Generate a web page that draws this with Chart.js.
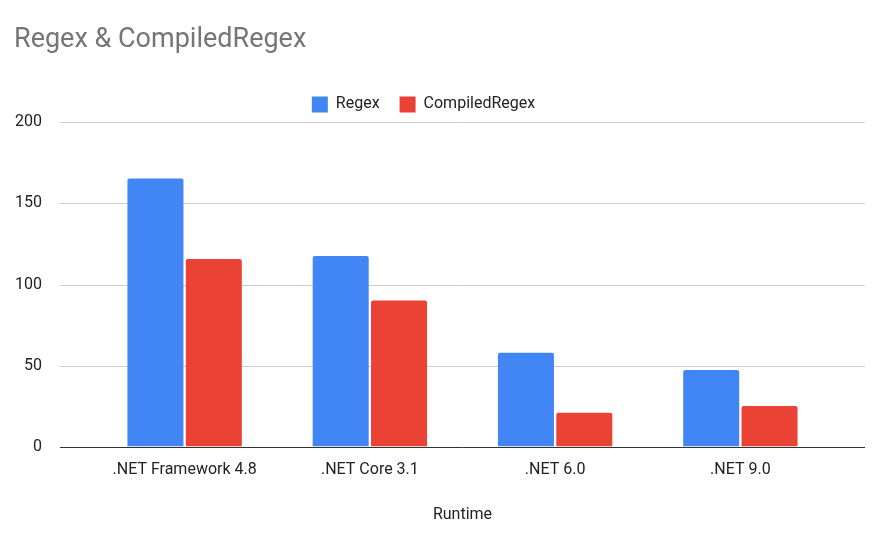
<!DOCTYPE html>
<html><head><meta charset="utf-8">
<script src="https://cdn.jsdelivr.net/npm/chart.js@4"></script>
<style>html,body{margin:0;padding:0;background:#fff}#w{width:879px;height:535px}</style>
</head><body><div id="w"><canvas id="c"></canvas></div>
<script>
const categories = [".NET Framework 4.8", ".NET Core 3.1", ".NET 6.0", ".NET 9.0"];
const regexValues = [165.4, 117.6, 57.9, 47.2];
const compiledValues = [115.8, 90.1, 20.9, 25.1];
const yTicks = [0, 50, 100, 150, 200];

const gridExt = {
  id: 'gridExt',
  beforeDatasetsDraw(chart) {
    const ctx = chart.ctx, y = chart.scales.y;
    ctx.save();
    ctx.lineWidth = 1;
    yTicks.forEach(v => {
      const py = Math.round(y.getPixelForValue(v)) + 0.5;
      ctx.strokeStyle = v === 0 ? '#333' : '#ccc';
      ctx.beginPath(); ctx.moveTo(60, py); ctx.lineTo(865, py); ctx.stroke();
    });
    ctx.restore();
  }
};

new Chart(document.getElementById('c'), {
  type: 'bar',
  data: {
    labels: categories,
    datasets: [
      {label: 'Regex', data: regexValues, backgroundColor: '#4285f4', borderRadius: {topLeft: 2, topRight: 2}, borderSkipped: 'bottom'},
      {label: 'CompiledRegex', data: compiledValues, backgroundColor: '#ea4335', borderRadius: {topLeft: 2, topRight: 2}, borderSkipped: 'bottom'}
    ]
  },
  plugins: [gridExt],
  options: {
    responsive: true, maintainAspectRatio: false, animation: false,
    layout: {padding: {left: 14, right: 46, top: 24, bottom: 6}},
    datasets: {bar: {categoryPercentage: 0.63, barPercentage: 0.96}},
    plugins: {
      title: {display: true, text: 'Regex & CompiledRegex', align: 'start', color: '#757575',
        font: {family: 'Roboto', size: 27, weight: 'normal'}, padding: {top: 0, bottom: 20}},
      legend: {labels: {boxWidth: 16, boxHeight: 16, color: '#222', font: {family: 'Roboto', size: 16}, padding: 20}},
      tooltip: {enabled: false}
    },
    scales: {
      x: {grid: {display: false}, border: {display: false},
        ticks: {color: '#222', font: {family: 'Roboto', size: 16}, padding: 6},
        title: {display: true, text: 'Runtime', color: '#222', font: {family: 'Roboto', size: 16}, padding: {top: 20}}},
      y: {min: 0, max: 200, afterBuildTicks: a => { a.ticks = yTicks.map(v => ({value: v})); },
        afterFit: a => { a.width = 78; },
        grid: {display: false}, border: {display: false},
        ticks: {color: '#222', font: {family: 'Roboto', size: 16}, padding: 42}}
    }
  }
});
</script></body></html>
